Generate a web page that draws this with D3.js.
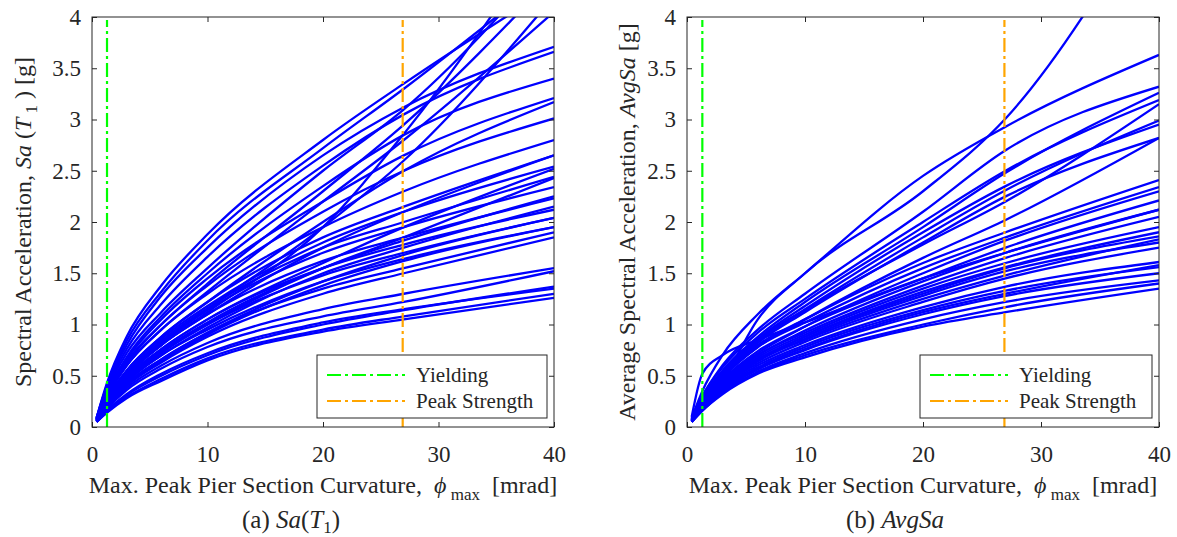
<!DOCTYPE html>
<html>
<head>
<meta charset="utf-8">
<script src="https://cdn.jsdelivr.net/npm/d3@7"></script>
<style>
	body { margin: 0; background: #fff; }
	svg text { font-family: "Liberation Serif", "Times New Roman", "DejaVu Serif", serif; fill: #262626; }
</style>
</head>
<body>
<div id="chart"></div>
<script>
const curvatureGrid = [0.4, 1.3, 3, 6, 10, 20, 27, 40];

// (a) Sa(T1) [g], one row per record
const saT1Curves = [
	[0.09, 0.43, 0.88, 1.38, 1.88, 2.80, 3.35, 4.30],
	[0.09, 0.41, 0.84, 1.32, 1.82, 2.72, 3.30, 4.45],
	[0.08, 0.36, 0.72, 1.12, 1.55, 2.50, 3.10, 4.60],
	[0.08, 0.33, 0.64, 1.00, 1.40, 2.30, 2.95, 4.40],
	[0.07, 0.26, 0.50, 0.80, 1.12, 1.95, 2.86, 4.90],
	[0.08, 0.30, 0.60, 0.95, 1.32, 2.20, 2.80, 4.05],
	[0.07, 0.26, 0.52, 0.82, 1.15, 1.95, 2.60, 4.20],
	[0.09, 0.40, 0.80, 1.28, 1.75, 2.65, 3.12, 3.71],
	[0.09, 0.38, 0.76, 1.20, 1.66, 2.55, 3.05, 3.66],
	[0.08, 0.34, 0.68, 1.08, 1.50, 2.35, 2.85, 3.40],
	[0.08, 0.34, 0.66, 1.05, 1.45, 2.20, 2.65, 3.21],
	[0.07, 0.28, 0.55, 0.88, 1.22, 2.00, 2.50, 3.17],
	[0.08, 0.31, 0.62, 1.00, 1.38, 2.10, 2.50, 3.01],
	[0.08, 0.30, 0.60, 0.95, 1.30, 1.95, 2.30, 2.80],
	[0.07, 0.28, 0.55, 0.88, 1.22, 1.85, 2.15, 2.65],
	[0.07, 0.25, 0.50, 0.80, 1.10, 1.75, 2.10, 2.65],
	[0.07, 0.27, 0.54, 0.86, 1.18, 1.80, 2.10, 2.54],
	[0.07, 0.24, 0.48, 0.76, 1.05, 1.60, 1.95, 2.52],
	[0.07, 0.26, 0.52, 0.84, 1.16, 1.75, 2.00, 2.44],
	[0.06, 0.22, 0.45, 0.72, 1.00, 1.55, 1.85, 2.43],
	[0.07, 0.25, 0.50, 0.82, 1.14, 1.70, 1.95, 2.34],
	[0.06, 0.23, 0.46, 0.74, 1.02, 1.55, 1.82, 2.25],
	[0.07, 0.26, 0.50, 0.80, 1.10, 1.62, 1.85, 2.23],
	[0.06, 0.22, 0.44, 0.70, 0.97, 1.50, 1.75, 2.15],
	[0.06, 0.24, 0.48, 0.76, 1.05, 1.55, 1.78, 2.12],
	[0.06, 0.21, 0.42, 0.66, 0.92, 1.42, 1.68, 2.04],
	[0.06, 0.23, 0.46, 0.73, 1.00, 1.48, 1.70, 2.04],
	[0.06, 0.20, 0.40, 0.64, 0.90, 1.38, 1.62, 1.95],
	[0.06, 0.22, 0.44, 0.70, 0.95, 1.42, 1.64, 1.95],
	[0.06, 0.20, 0.40, 0.63, 0.88, 1.30, 1.50, 1.85],
	[0.06, 0.21, 0.42, 0.66, 0.92, 1.35, 1.55, 1.90],
	[0.06, 0.19, 0.38, 0.60, 0.82, 1.15, 1.30, 1.55],
	[0.06, 0.18, 0.36, 0.57, 0.78, 1.08, 1.22, 1.52],
	[0.05, 0.16, 0.31, 0.50, 0.70, 1.00, 1.14, 1.37],
	[0.05, 0.16, 0.32, 0.52, 0.72, 1.02, 1.15, 1.35],
	[0.05, 0.14, 0.28, 0.45, 0.65, 0.93, 1.05, 1.26],
	[0.05, 0.15, 0.29, 0.47, 0.67, 0.95, 1.08, 1.30]
];

// (b) AvgSa [g]
const avgSaCurves = [
	[0.09, 0.35, 0.70, 1.10, 1.50, 2.45, 2.93, 3.63],
	[0.07, 0.20, 0.45, 1.05, 1.50, 2.30, 3.01, 5.20],
	[0.10, 0.52, 0.70, 0.85, 1.02, 1.45, 1.70, 2.12],
	[0.08, 0.30, 0.60, 0.95, 1.30, 2.10, 2.70, 3.32],
	[0.08, 0.28, 0.55, 0.88, 1.22, 1.95, 2.48, 3.26],
	[0.08, 0.30, 0.58, 0.92, 1.25, 2.00, 2.50, 3.19],
	[0.07, 0.26, 0.52, 0.85, 1.15, 1.85, 2.31, 2.99],
	[0.07, 0.27, 0.54, 0.86, 1.18, 1.90, 2.35, 2.95],
	[0.07, 0.25, 0.50, 0.82, 1.12, 1.80, 2.25, 2.82],
	[0.07, 0.26, 0.52, 0.84, 1.14, 1.78, 2.20, 3.15],
	[0.07, 0.25, 0.50, 0.80, 1.05, 1.60, 1.90, 2.41],
	[0.07, 0.24, 0.48, 0.78, 1.02, 1.55, 1.85, 2.34],
	[0.06, 0.22, 0.45, 0.72, 0.98, 1.50, 1.82, 2.30],
	[0.06, 0.23, 0.46, 0.74, 0.98, 1.45, 1.75, 2.21],
	[0.06, 0.22, 0.44, 0.70, 0.94, 1.42, 1.70, 2.12],
	[0.06, 0.21, 0.43, 0.70, 0.92, 1.38, 1.65, 2.05],
	[0.06, 0.20, 0.42, 0.68, 0.90, 1.35, 1.60, 1.95],
	[0.06, 0.21, 0.42, 0.66, 0.88, 1.30, 1.55, 1.86],
	[0.06, 0.20, 0.40, 0.64, 0.86, 1.28, 1.52, 1.80],
	[0.06, 0.20, 0.41, 0.66, 0.88, 1.32, 1.56, 1.90],
	[0.06, 0.19, 0.38, 0.60, 0.80, 1.17, 1.37, 1.61],
	[0.06, 0.18, 0.37, 0.58, 0.78, 1.14, 1.33, 1.56],
	[0.05, 0.17, 0.35, 0.56, 0.75, 1.10, 1.28, 1.50],
	[0.05, 0.17, 0.34, 0.54, 0.72, 1.05, 1.22, 1.43],
	[0.05, 0.16, 0.32, 0.52, 0.68, 0.98, 1.12, 1.35],
	[0.05, 0.16, 0.33, 0.53, 0.70, 1.00, 1.17, 1.40],
	[0.06, 0.18, 0.36, 0.57, 0.76, 1.12, 1.30, 1.58],
	[0.06, 0.19, 0.39, 0.62, 0.83, 1.22, 1.45, 1.75],
	[0.06, 0.20, 0.40, 0.65, 0.85, 1.25, 1.48, 1.83],
	[0.07, 0.24, 0.48, 0.78, 1.05, 1.65, 2.02, 2.82]
];

// limit states [mrad]
const limitNames = ["Yielding", "Peak Strength"];
const limitValues = [1.3, 26.9];
const limitColors = ["#00ff00", "#ffa500"];

const xTicks = [0, 10, 20, 30, 40];
const yTicks = [0, 0.5, 1, 1.5, 2, 2.5, 3, 3.5, 4];

const W = 1177, H = 537;
const serif = "'Liberation Serif', 'Times New Roman', 'DejaVu Serif', serif";
const svg = d3.select("#chart").append("svg")
	.attr("width", W)
	.attr("height", H)
	.attr("font-family", serif);

const dashDot = "14,4,3,4";

function drawPanel (opts) {
	const { left, right, top, bottom, curves, id } = opts;
	const x = d3.scaleLinear().domain([0, 40]).range([left, right]);
	const y = d3.scaleLinear().domain([0, 4]).range([bottom, top]);
	const g = svg.append("g");

	g.append("clipPath").attr("id", id)
		.append("rect")
		.attr("x", left).attr("y", top)
		.attr("width", right - left).attr("height", bottom - top);

	// IDA curves
	const line = d3.line()
		.x((d, i) => x(curvatureGrid[i]))
		.y(d => y(d))
		.curve(d3.curveMonotoneX);

	g.append("g").attr("clip-path", `url(#${id})`)
		.selectAll("path").data(curves).enter()
		.append("path")
		.attr("d", line)
		.attr("fill", "none")
		.attr("stroke", "#0000ff")
		.attr("stroke-width", 2.3);

	// limit state lines
	g.selectAll("line.limit").data(limitValues).enter()
		.append("line")
		.attr("class", "limit")
		.attr("x1", d => x(d)).attr("x2", d => x(d))
		.attr("y1", y(0)).attr("y2", y(3.97))
		.attr("stroke", (d, i) => limitColors[i])
		.attr("stroke-width", 2.2)
		.attr("stroke-dasharray", dashDot);

	// axes with ticks inside, box on
	const axes = [
		[d3.axisBottom(x).tickValues(xTicks).tickPadding(19), `translate(0,${bottom})`],
		[d3.axisTop(x).tickValues(xTicks).tickFormat(""), `translate(0,${top})`],
		[d3.axisLeft(y).tickValues(yTicks).tickPadding(11).tickFormat(d3.format("")), `translate(${left},0)`],
		[d3.axisRight(y).tickValues(yTicks).tickFormat(""), `translate(${right},0)`]
	];
	axes.forEach(([ax, tr]) => {
		const a = g.append("g")
			.attr("transform", tr)
			.call(ax.tickSizeInner(-5).tickSizeOuter(0))
			.attr("font-family", serif)
			.attr("font-size", 23);
		a.select(".domain").remove();
		a.selectAll("line").attr("stroke", "#262626");
		a.selectAll("text").attr("fill", "#262626");
	});

	g.append("rect")
		.attr("x", left).attr("y", top)
		.attr("width", right - left).attr("height", bottom - top)
		.attr("fill", "none")
		.attr("stroke", "#262626")
		.attr("stroke-width", 1);

	// legend
	const lg = g.append("g");
	lg.append("rect")
		.attr("x", opts.legendX).attr("y", 355)
		.attr("width", right - 7 - opts.legendX).attr("height", 63)
		.attr("fill", "#fff")
		.attr("stroke", "#262626");
	limitNames.forEach((name, i) => {
		const ly = 375 + i * 26;
		lg.append("line")
			.attr("x1", opts.legendX + 10).attr("x2", opts.legendX + 88)
			.attr("y1", ly).attr("y2", ly)
			.attr("stroke", limitColors[i])
			.attr("stroke-width", 2.2)
			.attr("stroke-dasharray", dashDot);
		lg.append("text")
			.attr("x", opts.legendX + 99).attr("y", ly + 7)
			.attr("font-size", 21)
			.text(name);
	});

	// x label
	const xl = g.append("text")
		.attr("x", (left + right) / 2).attr("y", 493)
		.attr("text-anchor", "middle")
		.attr("font-size", 24);
	xl.append("tspan").text("Max. Peak Pier Section Curvature,\u00a0\u00a0");
	xl.append("tspan").attr("font-style", "italic").text("\u03d5");
	xl.append("tspan").attr("font-size", 17).attr("dy", 7).text("\u00a0max");
	xl.append("tspan").attr("dy", -7).text("\u00a0\u00a0[mrad]");

	// y label
	const yl = g.append("text")
		.attr("transform", `translate(${opts.yLabelX},${(top + bottom) / 2}) rotate(-90)`)
		.attr("text-anchor", "middle")
		.attr("font-size", 24);
	opts.yLabel(yl);

	// caption
	const cap = g.append("text")
		.attr("x", opts.captionX).attr("y", 528)
		.attr("text-anchor", "middle")
		.attr("font-size", 25);
	opts.caption(cap);
}

drawPanel({
	id: "clipA", left: 92, right: 554, top: 17, bottom: 427,
	curves: saT1Curves, legendX: 317, yLabelX: 31, captionX: 291,
	yLabel: t => {
		t.append("tspan").text("Spectral Acceleration, ");
		t.append("tspan").attr("font-style", "italic").text("Sa");
		t.append("tspan").text(" (");
		t.append("tspan").attr("font-style", "italic").text("T");
		t.append("tspan").attr("font-size", 17).attr("dy", 6).text("\u00a01");
		t.append("tspan").attr("dy", -6).text("\u00a0) [g]");
	},
	caption: t => {
		t.append("tspan").text("(a) ");
		t.append("tspan").attr("font-style", "italic").text("Sa");
		t.append("tspan").text("(");
		t.append("tspan").attr("font-style", "italic").text("T");
		t.append("tspan").attr("font-size", 17).attr("dy", 5).text("1");
		t.append("tspan").attr("dy", -5).text(")");
	}
});

drawPanel({
	id: "clipB", left: 687, right: 1159, top: 17, bottom: 427,
	curves: avgSaCurves, legendX: 920, yLabelX: 635, captionX: 895,
	yLabel: t => {
		t.append("tspan").text("Average Spectral Acceleration, ");
		t.append("tspan").attr("font-style", "italic").text("AvgSa");
		t.append("tspan").text(" [g]");
	},
	caption: t => {
		t.append("tspan").text("(b) ");
		t.append("tspan").attr("font-style", "italic").text("AvgSa");
	}
});
</script>
</body>
</html>
